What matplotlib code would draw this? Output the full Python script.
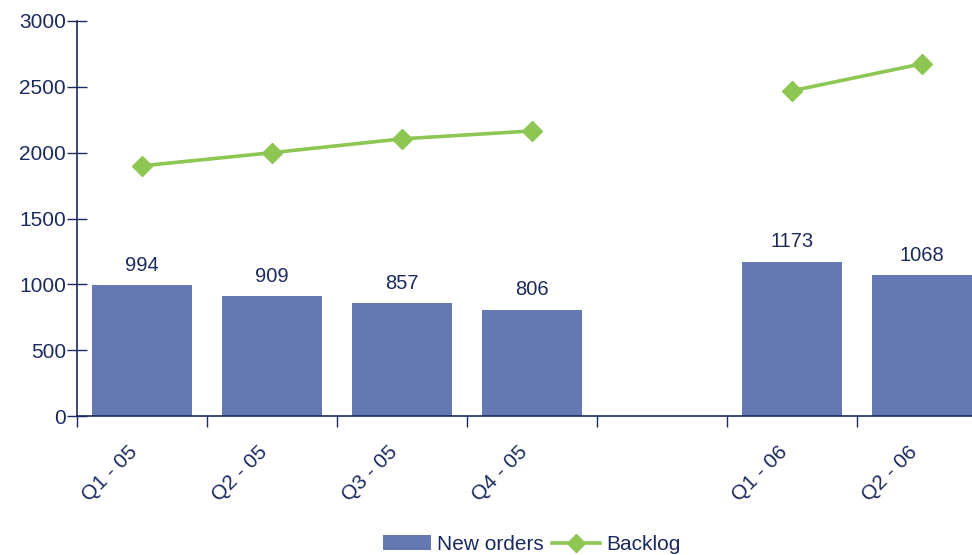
import numpy as np
import matplotlib.pyplot as plt
import matplotlib.transforms as mtransforms
from matplotlib.patches import Patch
from matplotlib.lines import Line2D

plt.rcParams['font.family'] = ['Liberation Sans', 'DejaVu Sans']

# ─── Data ───────────────────────────────────────────────────────────
quarters   = ['Q1 - 05', 'Q2 - 05', 'Q3 - 05', 'Q4 - 05', '', 'Q1 - 06', 'Q2 - 06']
new_orders = [994, 909, 857, 806, np.nan, 1173, 1068]
backlog    = [1900, 2000, 2105, 2165, np.nan, 2470, 2675]

NAVY  = '#1b2a5e'
BLUE  = '#6479b1'
GREEN = '#8dc653'

fig = plt.figure(figsize=(9.72, 5.55), dpi=100)
# axes run slightly past the right edge of the canvas
ax = fig.add_axes([77 / 972, 1 - 416 / 555, 910 / 972, 395 / 555])

x = np.arange(len(quarters))
bars = ax.bar(x, new_orders, width=0.77, color=BLUE, zorder=2)
for xi, v in zip(x, new_orders):
    if not np.isnan(v):
        ax.text(xi, v + 80, f'{v:.0f}', ha='center', va='bottom',
                fontsize=14.5, color=NAVY)

ax.plot(x, backlog, '-', color=GREEN, linewidth=2.6, marker='D',
        markersize=10, zorder=3)

ax.set_xlim(-0.5, len(quarters) - 0.5)
ax.set_ylim(0, 3000)
ax.set_yticks(np.arange(0, 3001, 500))

# category labels centred on each slot, tick marks on the boundaries
ax.set_xticks(x)
ax.set_xticklabels(quarters, rotation=45, ha='right', va='top',
                   rotation_mode='anchor', fontsize=15, color=NAVY)
ax.set_xticks(np.arange(-0.5, len(quarters)), minor=True)
ax.tick_params(axis='x', which='major', length=0, pad=19)
ax.tick_params(axis='x', which='minor', direction='out', length=8,
               color=NAVY, width=1)
ax.tick_params(axis='y', direction='inout', length=14, color=NAVY,
               width=1, labelsize=15, labelcolor=NAVY, pad=1)

# nudge the slanted labels a little to the left
shift = mtransforms.ScaledTranslation(-14 / 100, 0, fig.dpi_scale_trans)
for lbl in ax.get_xticklabels():
    lbl.set_transform(lbl.get_transform() + shift)

for side in ('top', 'right'):
    ax.spines[side].set_visible(False)
for side in ('left', 'bottom'):
    ax.spines[side].set_color(NAVY)
    ax.spines[side].set_linewidth(1.2)

handles = [Patch(facecolor=BLUE, edgecolor='none', label='New orders'),
           Line2D([], [], color=GREEN, linewidth=2.6, marker='D',
                  markersize=9, label='Backlog')]
leg = ax.legend(handles=handles, loc='center', bbox_to_anchor=(0.5, -0.325),
                ncol=2, frameon=False, fontsize=15, handlelength=2.3,
                columnspacing=0.4, handletextpad=0.3, labelcolor=NAVY)

fig.savefig('out.png', dpi=100)
